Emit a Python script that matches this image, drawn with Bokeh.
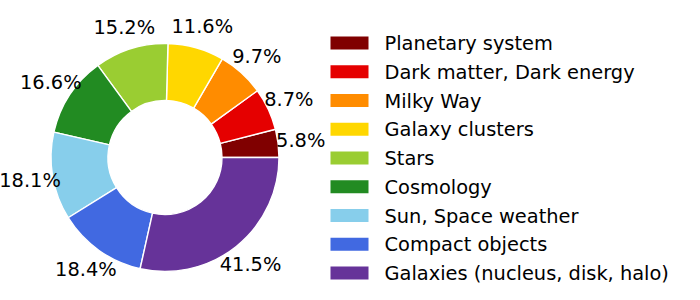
import numpy as np
from bokeh.plotting import figure
from bokeh.models import Range1d, ColumnDataSource
from bokeh.core.properties import value
from bokeh.embed import file_html
from bokeh.resources import INLINE

categories = ["Planetary system", "Dark matter, Dark energy", "Milky Way",
              "Galaxy clusters", "Stars", "Cosmology", "Sun, Space weather",
              "Compact objects", "Galaxies (nucleus, disk, halo)"]
values = [5.8, 8.7, 9.7, 11.6, 15.2, 16.6, 18.1, 18.4, 41.5]
labels = ["5.8%", "8.7%", "9.7%", "11.6%", "15.2%", "16.6%", "18.1%", "18.4%", "41.5%"]
colors = ["#800000", "#e50000", "#ff8c00", "#ffd700", "#9acd32",
          "#228b22", "#87ceeb", "#4169e1", "#663399"]

W, H = 700, 300
FONT = value("DejaVu Sans")
FS = "19.4px"

cx, cy = 164.5, H - 157.0
R = 114.0
r_in = 0.5 * R

vals = np.array(values)
frac = vals / vals.sum()
ends = np.cumsum(frac) * 2 * np.pi
starts = ends - frac * 2 * np.pi
mids = (starts + ends) / 2

p = figure(width=W, height=H, x_range=Range1d(0, W), y_range=Range1d(0, H),
           output_backend="svg", toolbar_location=None,
           x_axis_type=None, y_axis_type=None, min_border=0)
p.grid.visible = False
p.outline_line_color = None
p.background_fill_color = "white"
p.border_fill_color = "white"

src = ColumnDataSource(dict(start=starts, end=ends, color=colors, cat=categories))
p.annular_wedge(x=cx, y=cy, inner_radius=r_in, outer_radius=R,
                start_angle="start", end_angle="end", fill_color="color",
                line_color="white", line_width=1.4, source=src)

lr = 1.2 * R
TOFF = 0.5
lab = ColumnDataSource(dict(x=cx + lr * np.cos(mids),
                            y=cy + lr * np.sin(mids) - TOFF,
                            t=labels))
p.text(x="x", y="y", text="t", source=lab, text_font=FONT, text_font_size=FS,
       text_align="center", text_baseline="alphabetic", text_color="black")

# legend drawn manually
n = len(categories)
row0 = 42.5
step = 28.75
ly = H - (row0 + step * np.arange(n))
leg = ColumnDataSource(dict(x=np.full(n, 349.0), y=ly, color=colors,
                            tx=np.full(n, 384.0), ty=ly - TOFF, t=categories))
p.rect(x="x", y="y", width=38, height=13, fill_color="color", line_color=None, source=leg)
p.text(x="tx", y="ty", text="t", source=leg, text_font=FONT, text_font_size=FS,
       text_align="left", text_baseline="alphabetic", text_color="black")

open("out.html", "w").write(file_html(p, INLINE))
